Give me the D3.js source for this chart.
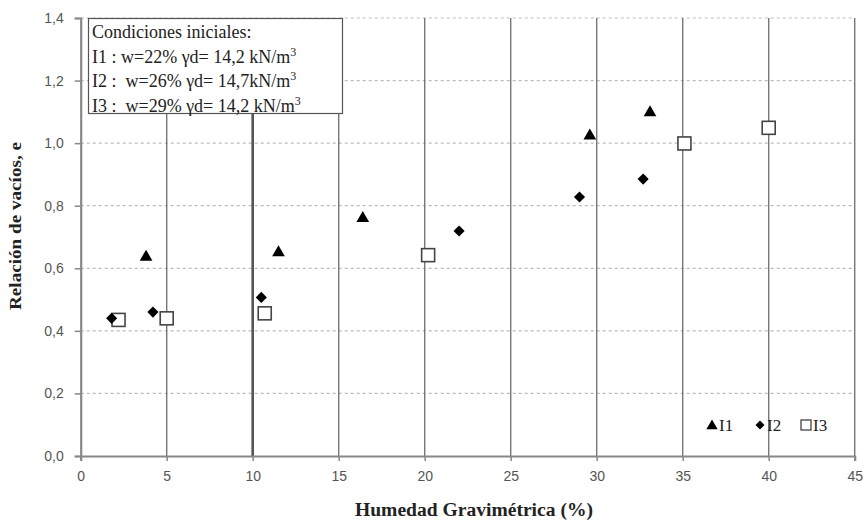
<!DOCTYPE html>
<html>
<head>
<meta charset="utf-8">
<script src="https://cdn.jsdelivr.net/npm/d3@7"></script>
<style>
  body { margin: 0; background: #fff; }
  svg text { white-space: pre; }
</style>
</head>
<body>
<div id="chart"></div>
<script>
// series values
var i1X = [3.8, 11.5, 16.4, 29.6, 33.1];
var i1Y = [0.636, 0.65, 0.76, 1.023, 1.098];
var i2X = [1.8, 4.2, 10.5, 22.0, 29.0, 32.7];
var i2Y = [0.44, 0.46, 0.507, 0.719, 0.828, 0.885];
var i3X = [2.2, 5.0, 10.7, 20.2, 35.1, 40.0];
var i3Y = [0.435, 0.44, 0.456, 0.642, 0.999, 1.049];

var xTicks = [0, 5, 10, 15, 20, 25, 30, 35, 40, 45];
var yTicks = [0, 0.2, 0.4, 0.6, 0.8, 1.0, 1.2, 1.4];

var noteLines = [
  ["Condiciones iniciales:", ""],
  ["I1 : w=22% \u03b3d= 14,2 kN/m", "3"],
  ["I2 :  w=26% \u03b3d= 14,7kN/m", "3"],
  ["I3 :  w=29% \u03b3d= 14,2 kN/m", "3"]
];
var seriesNames = ["I1", "I2", "I3"];

var width = 868, height = 520;
var margin = {left: 80.7, right: 13.3, top: 18, bottom: 64};
var serif = "'Liberation Serif', 'Times New Roman', serif";
var sans = "'Liberation Sans', Arial, sans-serif";

var svg = d3.select("#chart").append("svg")
  .attr("width", width)
  .attr("height", height)
  .attr("font-family", serif);

var x = d3.scaleLinear().domain([0, 45]).range([margin.left, width - margin.right]);
var y = d3.scaleLinear().domain([0, 1.4]).range([height - margin.bottom, margin.top]);

var fmt = function(d) { return d.toFixed(1).replace(".", ","); };

// horizontal dashed grid
svg.append("g").selectAll("line")
  .data(yTicks.filter(function(d) { return d > 0; }))
  .enter().append("line")
  .attr("x1", x(0)).attr("x2", x(45))
  .attr("y1", function(d) { return y(d); })
  .attr("y2", function(d) { return y(d); })
  .attr("stroke", "#bbb")
  .attr("stroke-width", 1.2)
  .attr("stroke-dasharray", "3,3");

// vertical solid grid
svg.append("g").selectAll("line")
  .data(xTicks.filter(function(d) { return d > 0; }))
  .enter().append("line")
  .attr("x1", function(d) { return x(d); })
  .attr("x2", function(d) { return x(d); })
  .attr("y1", y(0)).attr("y2", y(1.4))
  .attr("stroke", function(d) { return d === 10 ? "#555" : "#777"; })
  .attr("stroke-width", function(d) { return d === 10 ? 2.6 : 1.4; });

// axes
var xAxis = svg.append("g")
  .attr("transform", "translate(0," + y(0) + ")")
  .call(d3.axisBottom(x).tickValues(xTicks).tickSize(5).tickPadding(10).tickFormat(d3.format("d")));
var yAxis = svg.append("g")
  .attr("transform", "translate(" + x(0) + ",0)")
  .call(d3.axisLeft(y).tickValues(yTicks).tickSize(6).tickPadding(11).tickFormat(fmt));

[xAxis, yAxis].forEach(function(ax) {
  ax.attr("font-family", sans).attr("font-size", 14);
  ax.select(".domain").attr("stroke", "#888").attr("stroke-width", 2.2);
  ax.selectAll(".tick line").attr("stroke", "#888").attr("stroke-width", 1.5);
  ax.selectAll(".tick text").attr("fill", "#555");
});

// axis titles
svg.append("text")
  .attr("x", 474)
  .attr("y", 516)
  .attr("text-anchor", "middle")
  .attr("font-weight", "bold")
  .attr("font-size", 18)
  .attr("textLength", 238)
  .attr("lengthAdjust", "spacingAndGlyphs")
  .attr("fill", "#222")
  .text("Humedad Gravimétrica (%)");

svg.append("text")
  .attr("transform", "translate(21,226) rotate(-90)")
  .attr("text-anchor", "middle")
  .attr("font-weight", "bold")
  .attr("font-size", 17)
  .attr("textLength", 168)
  .attr("lengthAdjust", "spacingAndGlyphs")
  .attr("fill", "#222")
  .text("Relación de vacíos, e");

// markers
var tri = d3.symbol().type(d3.symbolTriangle).size(70);
var dia = d3.symbol().type(d3.symbolSquare).size(62);

svg.append("g").selectAll("path")
  .data(i1X)
  .enter().append("path")
  .attr("d", tri)
  .attr("transform", function(d, i) { return "translate(" + x(d) + "," + y(i1Y[i]) + ")"; })
  .attr("fill", "#000");

svg.append("g").selectAll("rect")
  .data(i3X)
  .enter().append("rect")
  .attr("x", function(d) { return x(d) - 6.5; })
  .attr("y", function(d, i) { return y(i3Y[i]) - 6.5; })
  .attr("width", 13).attr("height", 13)
  .attr("fill", "#fff")
  .attr("stroke", "#444")
  .attr("stroke-width", 1.6);

svg.append("g").selectAll("path")
  .data(i2X)
  .enter().append("path")
  .attr("d", dia)
  .attr("transform", function(d, i) { return "translate(" + x(d) + "," + y(i2Y[i]) + ") rotate(45)"; })
  .attr("fill", "#000");

// note box with initial conditions
var note = svg.append("g");
note.append("rect")
  .attr("x", 88.5).attr("y", 18.5)
  .attr("width", 254).attr("height", 95)
  .attr("fill", "#fff")
  .attr("stroke", "#555")
  .attr("stroke-width", 1.2);

var noteText = note.selectAll("text")
  .data(noteLines)
  .enter().append("text")
  .attr("x", 92)
  .attr("y", function(d, i) { return 38 + i * 24.5; })
  .attr("font-size", 18)
  .attr("fill", "#222");
noteText.append("tspan").text(function(d) { return d[0]; });
noteText.append("tspan")
  .attr("dy", -7)
  .attr("font-size", 12)
  .text(function(d) { return d[1]; });

// series legend, bottom right
var legend = svg.append("g");
var legX = [712, 760, 806];
legend.append("path")
  .attr("d", d3.symbol().type(d3.symbolTriangle).size(55))
  .attr("transform", "translate(" + legX[0] + ",426)")
  .attr("fill", "#000");
legend.append("path")
  .attr("d", d3.symbol().type(d3.symbolSquare).size(40))
  .attr("transform", "translate(" + legX[1] + ",425) rotate(45)")
  .attr("fill", "#000");
legend.append("rect")
  .attr("x", legX[2] - 5).attr("y", 420)
  .attr("width", 10).attr("height", 10)
  .attr("fill", "#fff")
  .attr("stroke", "#444")
  .attr("stroke-width", 1.3);
legend.selectAll("text")
  .data(seriesNames)
  .enter().append("text")
  .attr("x", function(d, i) { return legX[i] + 7; })
  .attr("y", 431)
  .attr("font-size", 17)
  .attr("fill", "#222")
  .text(function(d) { return d; });
</script>
</body>
</html>
